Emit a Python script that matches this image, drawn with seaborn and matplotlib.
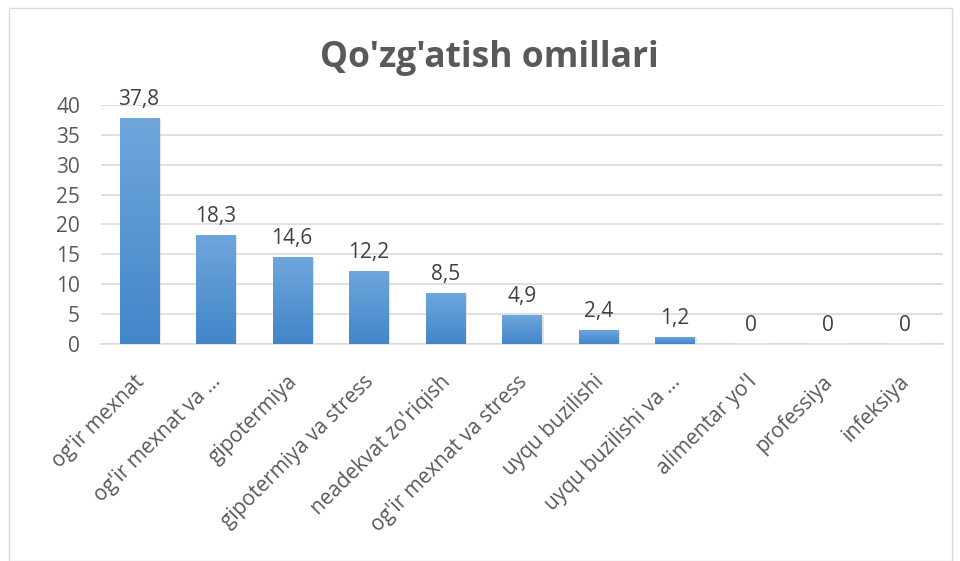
import matplotlib
matplotlib.use("Agg")
import matplotlib.pyplot as plt
import matplotlib.transforms as mtransforms
import seaborn as sns
import numpy as np
import pandas as pd
from matplotlib.colors import LinearSegmentedColormap
from matplotlib.patches import Rectangle

categories = ["og'ir mexnat", "og'ir mexnat va …", "gipotermiya", "gipotermiya va stress",
              "neadekvat zo'riqish", "og'ir mexnat va stress", "uyqu buzilishi",
              "uyqu buzilishi va …", "alimentar yo'l", "professiya", "infeksiya"]
values = [37.8, 18.3, 14.6, 12.2, 8.5, 4.9, 2.4, 1.2, 0, 0, 0]
yticks = [0, 5, 10, 15, 20, 25, 30, 35, 40]
title = "Qo'zg'atish omillari"

sns.set_theme(style="white")
plt.rcParams['font.family'] = ['Open Sans', 'DejaVu Sans']

df = pd.DataFrame({"cat": categories, "val": values})

fig = plt.figure(figsize=(9.6, 5.61), dpi=100)
ax = fig.add_axes([0.105, 0.387, 0.877, 0.426])

sns.barplot(data=df, x="cat", y="val", color="#5B9BD5", width=0.51, ax=ax,
            saturation=1, zorder=3)

ax.set_ylim(0, 40)
ax.set_xlim(-0.5, len(categories) - 0.5)
ax.set_yticks(yticks)
ax.set_yticklabels([str(t) for t in yticks], fontsize=15, color="#595959")
ax.yaxis.grid(True, color="#D9D9D9", linewidth=1.2, zorder=0)
ax.set_axisbelow(True)
for s in ["top", "right", "left"]:
    ax.spines[s].set_visible(False)
ax.spines["bottom"].set_color("#D9D9D9")
ax.spines["bottom"].set_linewidth(1.2)
ax.tick_params(axis="y", length=0, pad=15)
ax.tick_params(axis="x", length=0, pad=25)
ax.set_xlabel("")
ax.set_ylabel("")

ax.set_xticks(range(len(categories)))
ax.set_xticklabels(categories, rotation=45, ha="right", rotation_mode="anchor",
                   va="center", fontsize=15, color="#595959")
offset = mtransforms.ScaledTranslation(2 / 100, 0, fig.dpi_scale_trans)
for lbl in ax.get_xticklabels():
    lbl.set_transform(lbl.get_transform() + offset)

# gradient fill for bars
cmap = LinearSegmentedColormap.from_list("g", ["#4285C9", "#6FA7DC"])
grad = np.linspace(0, 1, 256).reshape(-1, 1)
for p in ax.patches:
    x0, y0 = p.get_x(), p.get_y()
    w, h = p.get_width(), p.get_height()
    if h <= 0:
        continue
    sh = Rectangle((x0 + 0.03, y0), w, h - 0.2, facecolor="#000000", alpha=0.12,
                   edgecolor="none", zorder=2.5)
    ax.add_patch(sh)
    im = ax.imshow(grad, extent=[x0, x0 + w, y0, y0 + h], origin="lower", cmap=cmap,
                   aspect="auto", zorder=3.5)
    im.set_clip_path(p)
ax.set_xlim(-0.5, len(categories) - 0.5)
ax.set_ylim(0, 40)

for i, v in enumerate(values):
    txt = f"{v:g}".replace(".", ",")
    ax.text(i, v + 1.3, txt, ha="center", va="bottom", fontsize=15, color="#404040",
            zorder=5)

fig.text(0.51, 0.896, title, ha="center", va="center", fontsize=25.5, fontweight="bold",
         color="#595959")

border = Rectangle((0.009, 0.0), 0.983, 0.986, transform=fig.transFigure, fill=False,
                   edgecolor="#D9D9D9", linewidth=1)
fig.patches.append(border)

fig.savefig("out.png", dpi=100)
